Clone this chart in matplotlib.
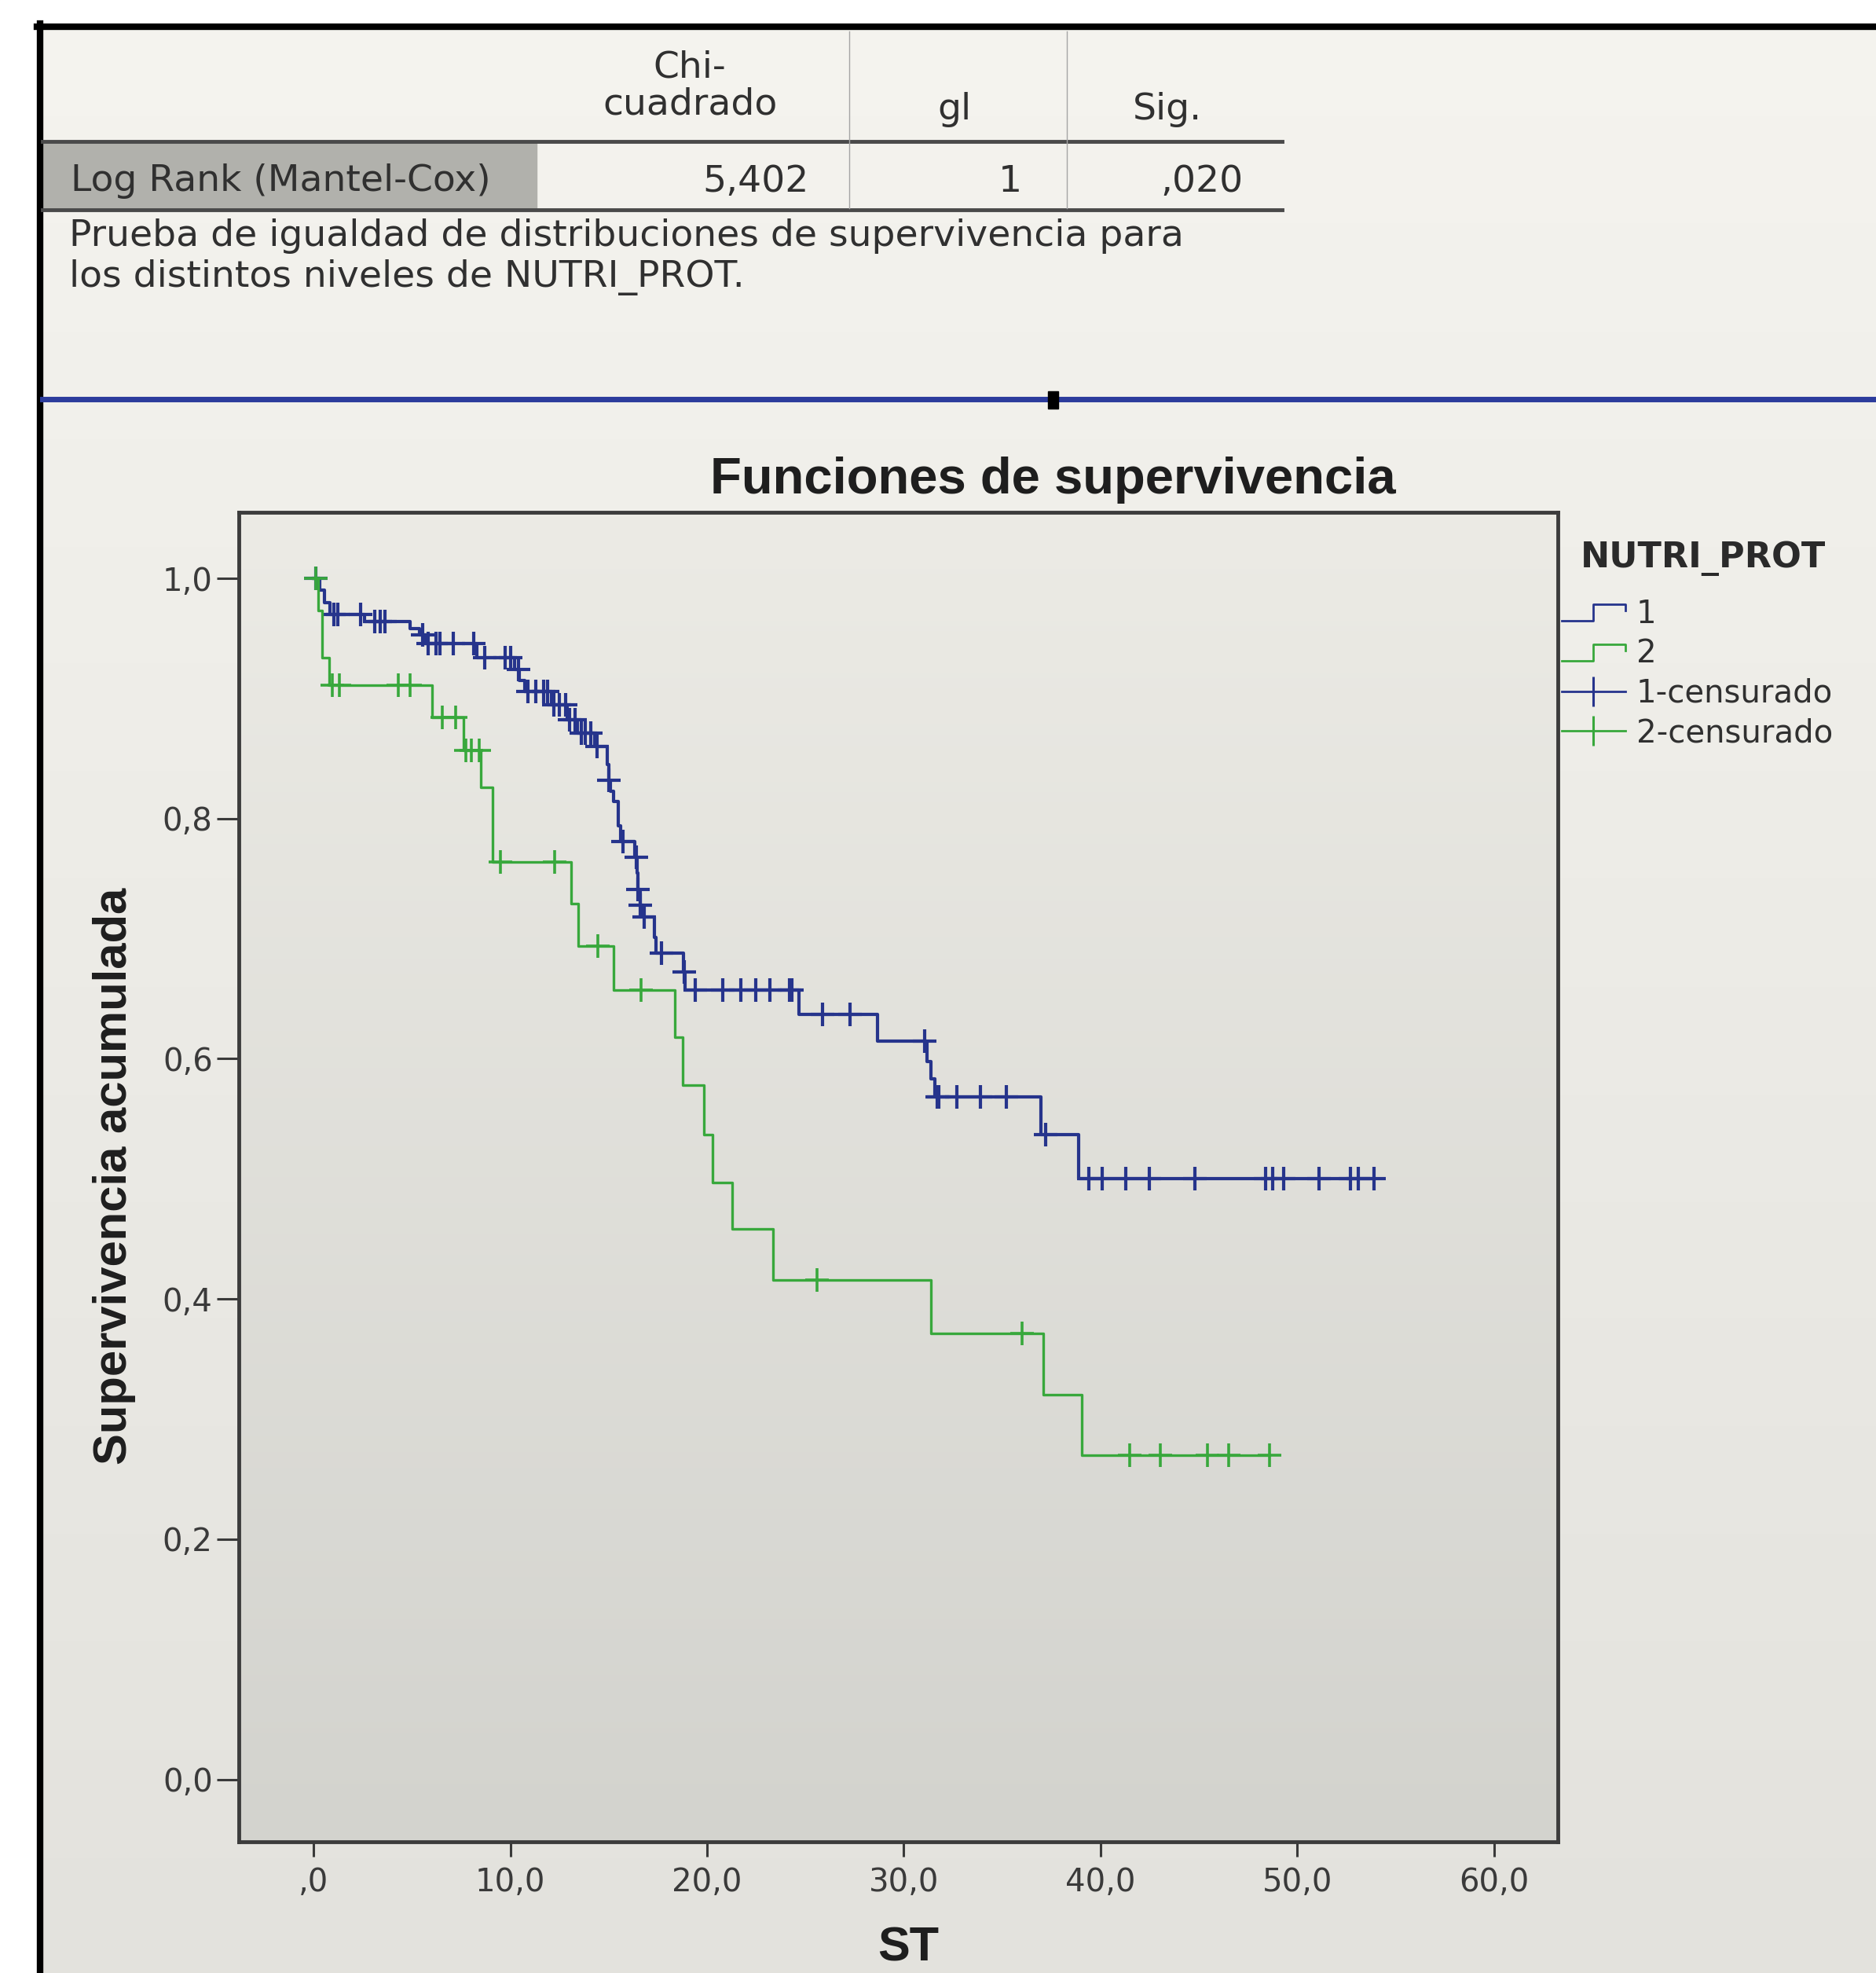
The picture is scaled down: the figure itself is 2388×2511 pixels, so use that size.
import numpy as np
import matplotlib.pyplot as plt
from matplotlib.lines import Line2D
from matplotlib.patches import Rectangle
from matplotlib.legend_handler import HandlerBase
from matplotlib.colors import LinearSegmentedColormap

W, H = 2388, 2511

# Kaplan-Meier steps (time, survival after the drop)
blue_event_t = [0.3, 0.55, 0.85, 2.6, 4.9, 5.4, 5.7, 8.3, 10.2, 10.45, 10.75, 12.1, 12.9, 13.4,
                14.3, 14.94, 15.0, 15.1, 15.25, 15.5, 15.6, 16.34, 16.45, 16.5, 16.6, 16.75,
                17.34, 17.4, 18.8, 18.9, 24.66, 28.65, 31.2, 31.4, 31.6, 36.96, 38.87]
blue_event_s = [0.99, 0.98, 0.97, 0.964, 0.958, 0.953, 0.946, 0.934, 0.924, 0.915, 0.906, 0.895,
                0.882, 0.871, 0.860, 0.845, 0.832, 0.823, 0.814, 0.794, 0.781, 0.768, 0.755,
                0.741, 0.728, 0.718, 0.701, 0.688, 0.672, 0.657, 0.637, 0.615, 0.598, 0.583,
                0.568, 0.537, 0.500]
blue_censor_t = [0.1, 1.04, 1.24, 2.37, 3.1, 3.37, 3.63, 5.56, 5.83, 6.23, 6.43, 7.09, 8.16, 8.69,
                 9.75, 10.02, 10.4, 10.9, 11.3, 11.7, 11.9, 12.2, 12.5, 12.8, 13.0, 13.3, 13.6,
                 13.8, 14.1, 14.4, 15.02, 15.74, 16.4, 16.5, 16.6, 16.8, 17.7, 18.85, 19.4, 20.8,
                 21.73, 22.46, 23.2, 24.19, 24.33, 25.86, 27.25, 31.06, 31.7, 31.8, 32.7, 33.9,
                 35.2, 37.2, 39.4, 40.1, 41.3, 42.5, 44.8, 48.4, 48.75, 49.3, 51.1, 52.7, 53.1,
                 53.9]

green_event_t = [0.25, 0.45, 0.8, 6.03, 7.62, 8.5, 9.09, 13.1, 13.45, 15.25, 18.35, 18.75,
                 19.86, 20.28, 21.26, 23.36, 31.4, 37.1, 39.03]
green_event_s = [0.973, 0.934, 0.911, 0.884, 0.857, 0.826, 0.764, 0.729, 0.694, 0.657, 0.618,
                 0.578, 0.537, 0.497, 0.458, 0.416, 0.371, 0.320, 0.270]
green_censor_t = [0.1, 0.97, 1.3, 4.3, 4.9, 6.56, 7.22, 7.76, 8.02, 8.42, 9.5, 12.24, 14.45,
                  16.65, 25.6, 36.0, 41.5, 43.05, 45.45, 46.5, 48.6]

x_ticks = [0, 10, 20, 30, 40, 50, 60]
x_tick_labels = [',0', '10,0', '20,0', '30,0', '40,0', '50,0', '60,0']
y_ticks = [0.0, 0.2, 0.4, 0.6, 0.8, 1.0]
y_tick_labels = ['0,0', '0,2', '0,4', '0,6', '0,8', '1,0']

group_labels = ['1', '2', '1-censurado', '2-censurado']

# log rank table
table_header = ['Chi-\ncuadrado', 'gl', 'Sig.']
table_row = ['Log Rank (Mantel-Cox)', '5,402', '1', ',020']
table_note = ('Prueba de igualdad de distribuciones de supervivencia para\n'
              'los distintos niveles de NUTRI_PROT.')

BLUE = '#26348c'
GREEN = '#38a83c'
INK = '#303030'


def fx(px):
    return px / W


def fy(py):
    return 1 - py / H


def km_curve(event_t, event_s, censor_t):
    end = max(max(censor_t), max(event_t))
    t = np.array([0.0] + list(event_t) + [end])
    s = np.array([1.0] + list(event_s) + [event_s[-1]])
    idx = np.searchsorted(t[:-1], censor_t, side='right') - 1
    return t, s, np.array(censor_t), s[idx]


class StepHandler(HandlerBase):
    def create_artists(self, legend, orig_handle, xdescent, ydescent, width, height, fontsize, trans):
        x0, y0 = -xdescent, -ydescent
        xs = [x0, x0 + 0.5 * width, x0 + 0.5 * width, x0 + width, x0 + width]
        ys = [y0 + 0.1 * height, y0 + 0.1 * height, y0 + 0.85 * height, y0 + 0.85 * height, y0 + 0.55 * height]
        return [Line2D(xs, ys, color=orig_handle.get_color(), lw=2.0, transform=trans)]


fig = plt.figure(figsize=(W / 100, H / 100), dpi=100)

# screen background with a soft vertical shading
bg = fig.add_axes([0, 0, 1, 1], zorder=-5)
bg.axis('off')
bg_cmap = LinearSegmentedColormap.from_list('bg', ['#e3e2dd', '#f5f4ef'])
bg.imshow(np.linspace(0, 1, 256).reshape(-1, 1), cmap=bg_cmap, origin='lower',
          aspect='auto', extent=(0, 1, 0, 1))
bg.set_xlim(0, 1)
bg.set_ylim(0, 1)

# white photo margin and black monitor frame
fig.add_artist(Rectangle((0, 0), fx(48), 1, transform=fig.transFigure, color='white', zorder=1))
fig.add_artist(Rectangle((0, fy(30)), 1, 30 / H, transform=fig.transFigure, color='white', zorder=1))
fig.add_artist(Line2D([fx(47), 1], [fy(34), fy(34)], transform=fig.transFigure, color='black', lw=6, zorder=2))
fig.add_artist(Line2D([fx(51), fx(51)], [fy(30), 0], transform=fig.transFigure, color='black', lw=6, zorder=2))

# ---- table -------------------------------------------------------------
fig.add_artist(Rectangle((fx(54), fy(265)), fx(683) - fx(54), (265 - 182) / H,
                         transform=fig.transFigure, color='#b1b1ac', zorder=1))
for yy in (180, 267):
    fig.add_artist(Line2D([fx(54), fx(1632)], [fy(yy), fy(yy)], transform=fig.transFigure,
                          color='#4a4a4a', lw=3.5, zorder=2))
for xx in (1081, 1358):
    fig.add_artist(Line2D([fx(xx), fx(xx)], [fy(40), fy(265)], transform=fig.transFigure,
                          color='#a5a5a5', lw=1.0, zorder=2))

tfont = dict(family='DejaVu Sans', fontsize=34, color=INK)
fig.text(fx(878), fy(145), table_header[0], ha='center', va='baseline', linespacing=1.05, **tfont)
fig.text(fx(1215), fy(152), table_header[1], ha='center', va='baseline', **tfont)
fig.text(fx(1486), fy(152), table_header[2], ha='center', va='baseline', **tfont)
fig.text(fx(90), fy(243), table_row[0], ha='left', va='baseline', **tfont)
fig.text(fx(1030), fy(244), table_row[1], ha='right', va='baseline', **tfont)
fig.text(fx(1301), fy(244), table_row[2], ha='right', va='baseline', **tfont)
fig.text(fx(1583), fy(244), table_row[3], ha='right', va='baseline', **tfont)
fig.text(fx(88), fy(313), table_note.split('\n')[0], ha='left', va='baseline', **tfont)
fig.text(fx(88), fy(365), table_note.split('\n')[1], ha='left', va='baseline', **tfont)

# blue separator with the small handle
fig.add_artist(Line2D([fx(54), 1], [fy(508), fy(508)], transform=fig.transFigure,
                      color='#2c3c9c', lw=5, zorder=2))
fig.add_artist(Rectangle((fx(1334), fy(520)), 13 / W, 22 / H, transform=fig.transFigure,
                         color='black', zorder=3))

# ---- chart -------------------------------------------------------------
ax = fig.add_axes([fx(304), fy(2344), fx(1983) - fx(304), (2344 - 652) / H])
ax_cmap = LinearSegmentedColormap.from_list('ax', ['#d3d3ce', '#ecebe5'])
ax.imshow(np.linspace(0, 1, 256).reshape(-1, 1), cmap=ax_cmap, origin='lower', aspect='auto',
          extent=(0, 1, 0, 1), transform=ax.transAxes, zorder=0)

bt, bs, bct, bcs = km_curve(blue_event_t, blue_event_s, blue_censor_t)
gt, gs, gct, gcs = km_curve(green_event_t, green_event_s, green_censor_t)

blue_line, = ax.step(bt, bs, where='post', color=BLUE, lw=3.0, zorder=3)
ax.plot(bct, bcs, ls='none', marker='+', ms=22, mew=3.0, color=BLUE, zorder=3)
green_line, = ax.step(gt, gs, where='post', color=GREEN, lw=2.4, zorder=4)
ax.plot(gct, gcs, ls='none', marker='+', ms=22, mew=2.6, color=GREEN, zorder=4)

ax.set_xlim(-3.8, 63.25)
ax.set_ylim(-0.052, 1.055)
ax.set_xticks(x_ticks, x_tick_labels)
ax.set_yticks(y_ticks, y_tick_labels)
ax.tick_params(axis='x', length=14, width=2.2, pad=9, labelsize=29, colors='#3a3a3a')
ax.tick_params(axis='y', length=20, width=2.2, pad=4, labelsize=29, colors='#3a3a3a')
for sp in ax.spines.values():
    sp.set_color('#3c3c3c')
    sp.set_linewidth(3.5)

fig.text(fx(1340), fy(628), 'Funciones de supervivencia', ha='center', va='baseline',
         family='Liberation Sans', weight='bold', fontsize=47, color='#1e1e1e')
fig.text(fx(146), fy(1497), 'Supervivencia acumulada', ha='center', va='center', rotation=90,
         family='Liberation Sans', weight='bold', fontsize=43, color='#1e1e1e')
fig.text(fx(1156), fy(2496), 'ST', ha='center', va='baseline',
         family='Liberation Sans', weight='bold', fontsize=44, color='#1e1e1e')

# legend
fig.text(fx(2012), fy(722), 'NUTRI_PROT', ha='left', va='baseline',
         family='DejaVu Sans', weight='bold', fontsize=32, color='#2a2a2a')
handles = [blue_line, green_line,
           Line2D([], [], color=BLUE, lw=2.0, marker='|', ms=28, mew=2.2),
           Line2D([], [], color=GREEN, lw=2.0, marker='|', ms=28, mew=2.2)]
leg = ax.legend(handles, group_labels, loc='upper left', bbox_to_anchor=(fx(1988), fy(762)),
                bbox_transform=fig.transFigure, frameon=False, borderpad=0, borderaxespad=0,
                handlelength=2.0, handletextpad=0.35, labelspacing=0.26, numpoints=1,
                prop=dict(family='DejaVu Sans', size=29),
                handler_map={blue_line: StepHandler(), green_line: StepHandler()})
for txt in leg.get_texts():
    txt.set_color(INK)

fig.savefig('out.png', dpi=100)
